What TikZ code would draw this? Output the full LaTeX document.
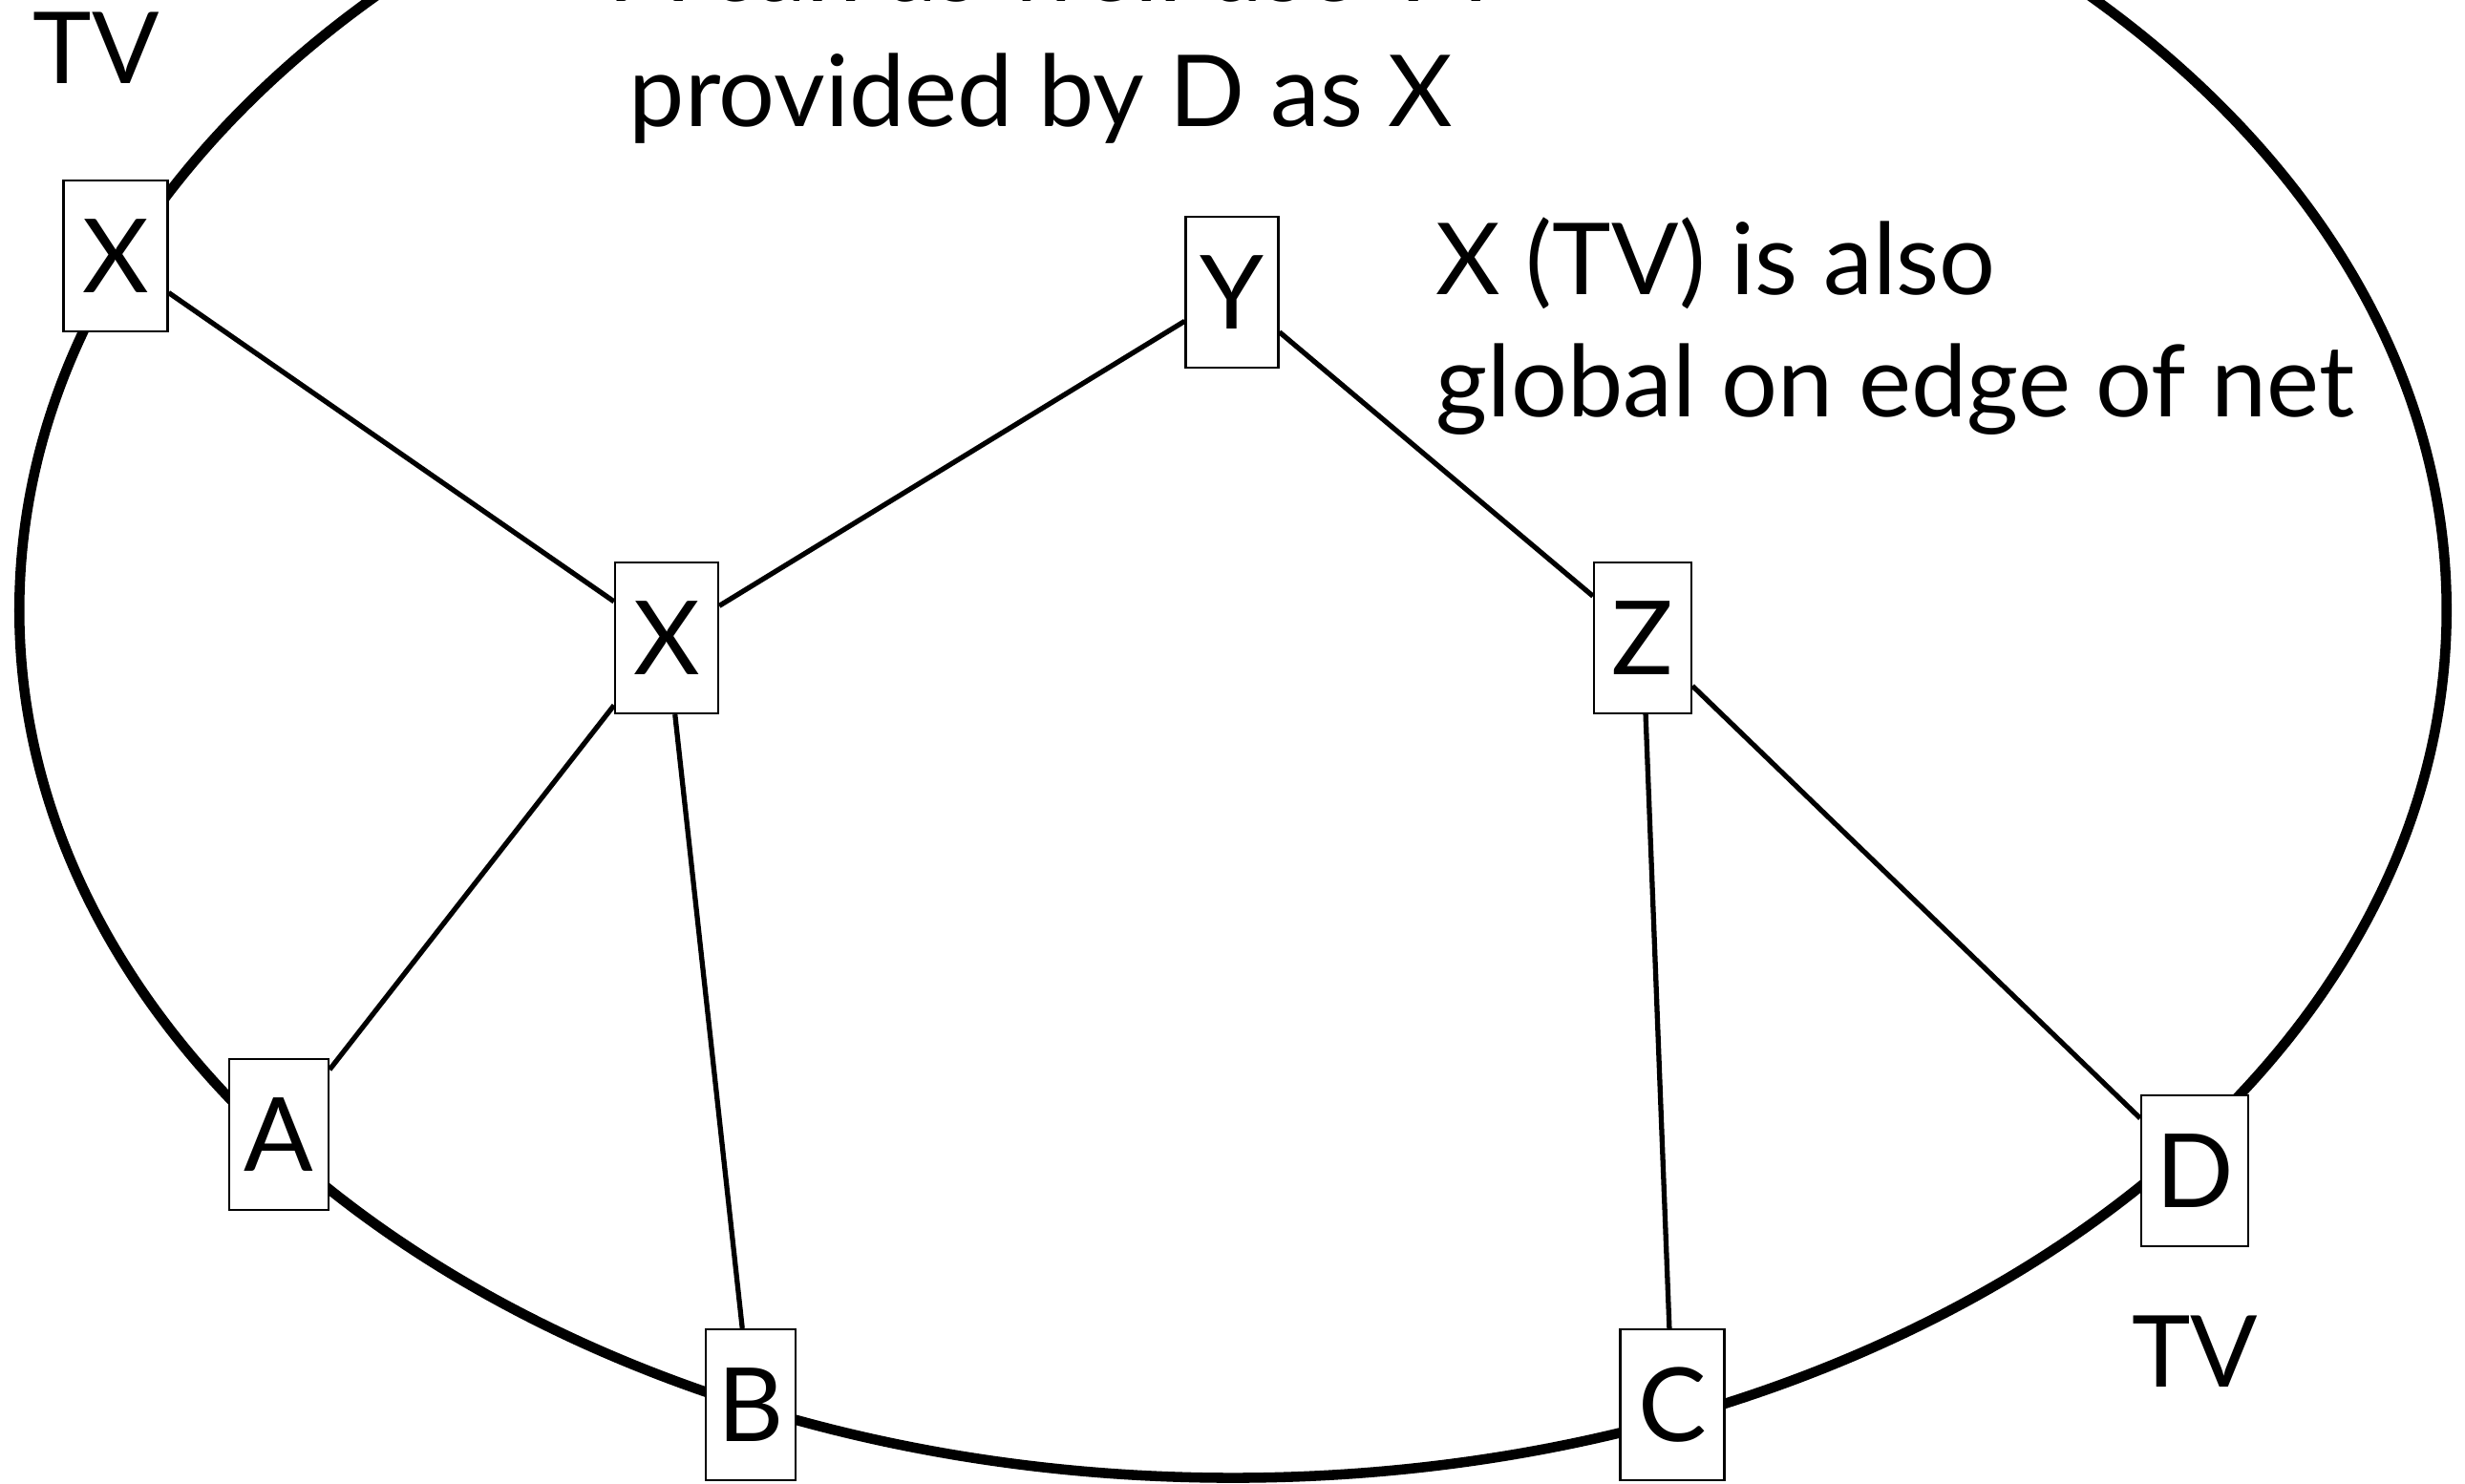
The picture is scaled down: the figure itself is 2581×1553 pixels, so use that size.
\documentclass[tikz,border=0pt]{standalone}
\usepackage{fontspec}
\setmainfont{Lato}
\begin{document}
\begin{tikzpicture}[x=0.01cm,y=-0.01cm,
  box/.style={draw, line width=0.6pt, fill=white, minimum height=1.58cm, inner xsep=0.12cm, font=\fontsize{30.5}{36}\selectfont},
  edge/.style={line width=1.5pt},
  lbl/.style={font=\fontsize{29.6}{36.4}\selectfont, inner sep=0pt, align=left}]
\useasboundingbox (0,0) rectangle (2581,1553);
\draw[line width=3pt] (1291,639) ellipse [x radius=12.7cm, y radius=9.08cm];
% nodes
\node[box, minimum width=1.09cm] (xt) at (121,268) {X};
\node[box, minimum width=0.97cm] (y) at (1290,306) {Y};
\node[box, minimum width=1.08cm] (xm) at (698,668) {X};
\node[box, minimum width=1.02cm] (z) at (1720,668) {Z};
\node[box, minimum width=1.04cm] (a) at (292,1188) {A};
\node[box, minimum width=0.90cm] (b) at (786,1471) {B};
\node[box, minimum width=1.09cm] (c) at (1751,1471) {C};
\node[box, minimum width=1.12cm] (d) at (2298,1226) {D};
% edges
\draw[edge] (xt) -- (xm);
\draw[edge] (xm) -- (y);
\draw[edge] (y) -- (z);
\draw[edge] (z) -- (d);
\draw[edge] (z) -- (c);
\draw[edge] (xm) -- (a);
\draw[edge] (xm) -- (b);
% texts
\node[lbl, anchor=base west] (t1) at (645,1) {A can as well use TV};
\node[lbl, anchor=base west] (t2) at (658,132) {provided by D as X};
\node[lbl, anchor=base west] (t3) at (1503,308) {X (TV) is also};
\node[lbl, anchor=base west] (t4) at (1503,436) {global on edge of net};
\node[lbl, anchor=base west] (tv1) at (34,87) {TV};
\node[lbl, anchor=base] (tv2) at (2298,1452) {TV};
\end{tikzpicture}
\end{document}
